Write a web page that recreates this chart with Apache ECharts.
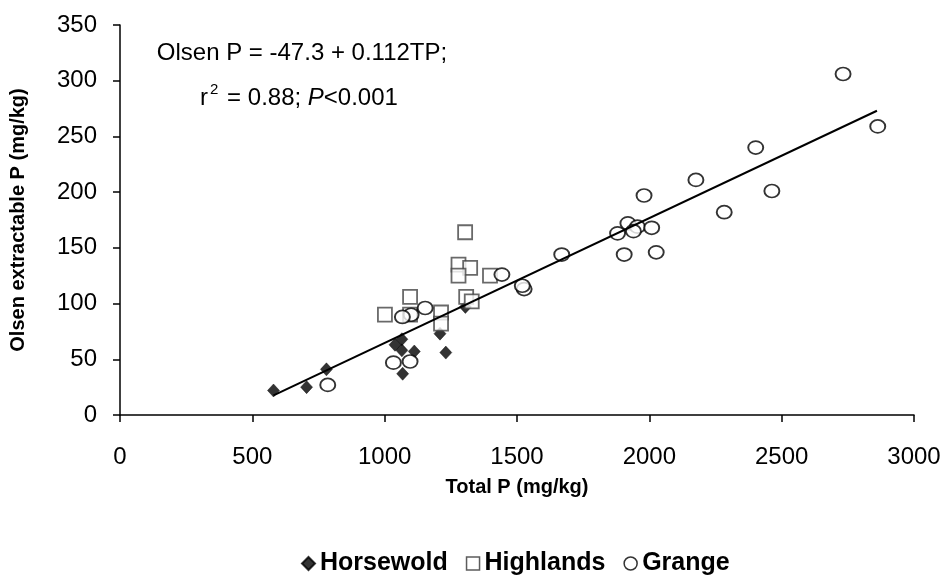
<!DOCTYPE html>
<html>
<head>
<meta charset="utf-8">
<script src="https://cdn.jsdelivr.net/npm/echarts@6/dist/echarts.min.js"></script>
<style>html,body{margin:0;padding:0;background:#fff}#c{width:946px;height:584px}</style>
</head>
<body>
<div id="c"></div>
<script>
// Horsewold (Total P, Olsen P)
const horsewoldX = [580, 705, 780, 1039, 1065, 1065, 1112, 1068, 1209, 1231, 1305];
const horsewoldY = [22, 25, 41, 63, 68, 58, 57, 37, 73, 56, 97];
// Highlands
const highlandsX = [1304, 1279, 1323, 1279, 1398, 1096, 1001, 1096, 1213, 1213, 1308, 1329];
const highlandsY = [164, 135, 132, 125, 125, 106, 90, 90, 92, 82, 106, 102];
// Grange
const grangeX = [785, 1033, 1096, 1443, 1153, 1100, 1067, 1527, 1520, 2863, 2732, 2402, 2176, 2463, 1980, 2283, 1919, 1955, 1880, 1940, 2009, 1905, 2026, 1669];
const grangeY = [27, 47, 48, 126, 96, 90, 88, 113, 116, 259, 306, 240, 211, 201, 197, 182, 172, 169, 163, 165, 168, 144, 146, 144];
// Regression: Olsen P = -47.3 + 0.112 TP
const regIntercept = -47.3, regSlope = 0.112;
const regRange = [580, 2860];
const xTicks = [0, 500, 1000, 1500, 2000, 2500, 3000];
const yTicks = [0, 50, 100, 150, 200, 250, 300, 350];

const zip = (a, b) => a.map((v, i) => [v, b[i]]);
const font = '"Liberation Sans", Arial, sans-serif';
const chart = echarts.init(document.getElementById('c'));
chart.setOption({
  animation: false,
  backgroundColor: '#fff',
  grid: { left: 120, right: 32, top: 25, bottom: 169, containLabel: false, outerBoundsMode: 'none' },
  xAxis: {
    type: 'value', min: xTicks[0], max: xTicks[xTicks.length - 1], interval: 500,
    name: 'Total P (mg/kg)', nameLocation: 'middle', nameGap: 62, nameMoveOverlap: false,
    nameTextStyle: { fontFamily: font, fontSize: 20, fontWeight: 'bold', color: '#000' },
    axisLine: { lineStyle: { color: '#000', width: 1.5 } },
    axisTick: { lineStyle: { color: '#000', width: 1.5 }, length: 7 },
    axisLabel: { fontFamily: font, fontSize: 24, color: '#000', margin: 30, formatter: v => String(v) },
    splitLine: { show: false }
  },
  yAxis: {
    type: 'value', min: yTicks[0], max: yTicks[yTicks.length - 1], interval: 50,
    name: 'Olsen extractable P (mg/kg)', nameLocation: 'middle', nameGap: 92, nameRotate: 90, nameMoveOverlap: false,
    nameTextStyle: { fontFamily: font, fontSize: 20, fontWeight: 'bold', color: '#000' },
    axisLine: { show: true, lineStyle: { color: '#000', width: 1.5 } },
    axisTick: { show: true, lineStyle: { color: '#000', width: 1.5 }, length: 7 },
    axisLabel: { fontFamily: font, fontSize: 24, color: '#000', margin: 23, formatter: v => String(v) },
    splitLine: { show: false }
  },
  legend: {
    bottom: 3, left: 296, itemGap: 18, itemWidth: 13, itemHeight: 13,
    data: [
      { name: 'Horsewold', icon: 'diamond', itemStyle: { color: '#000' } },
      { name: 'Highlands', icon: 'rect', itemStyle: { color: '#fff', borderColor: '#333', borderWidth: 1.5 } },
      { name: 'Grange', icon: 'circle', itemStyle: { color: '#fff', borderColor: '#000', borderWidth: 1.5 } }
    ],
    textStyle: { fontFamily: font, fontSize: 25, fontWeight: 'bold', color: '#000' }
  },
  graphic: [{
    type: 'text', x: 302, y: 53,
    style: { text: 'Olsen P = -47.3 + 0.112TP;', font: '24px ' + font, fill: '#000', align: 'center', verticalAlign: 'middle' }
  }, {
    type: 'text', x: 299, y: 96,
    style: {
      text: '{n|r}{s|2}{n| = 0.88; }{i|P}{n|<0.001}',
      align: 'center', verticalAlign: 'middle',
      rich: {
        n: { fontFamily: font, fontSize: 24, color: '#000', verticalAlign: 'bottom', lineHeight: 28 },
        i: { fontFamily: font, fontSize: 24, fontStyle: 'italic', color: '#000', verticalAlign: 'bottom', lineHeight: 28 },
        s: { fontFamily: font, fontSize: 15, color: '#000', verticalAlign: 'top', lineHeight: 28, padding: [0, 2, 12, 2] }
      }
    }
  }],
  series: [
    { name: 'Horsewold', type: 'scatter', z: 2, data: zip(horsewoldX, horsewoldY), symbol: 'diamond', symbolSize: [12, 13],
      itemStyle: { color: '#000', borderColor: '#000', borderWidth: 0.5 } },
    { name: 'Highlands', type: 'scatter', z: 3, data: zip(highlandsX, highlandsY), symbol: 'rect', symbolSize: 14,
      itemStyle: { color: '#fff', borderColor: '#444', borderWidth: 1.8 } },
    { name: 'Grange', type: 'scatter', z: 4, data: zip(grangeX, grangeY), symbol: 'circle', symbolSize: [15, 13],
      itemStyle: { color: '#fff', borderColor: '#000', borderWidth: 1.8 } },
    { name: 'fit', type: 'line', z: 5, symbol: 'none', silent: true,
      data: regRange.map(x => [x, regIntercept + regSlope * x]),
      lineStyle: { color: '#000', width: 2 } }
  ]
});
</script>
</body>
</html>
